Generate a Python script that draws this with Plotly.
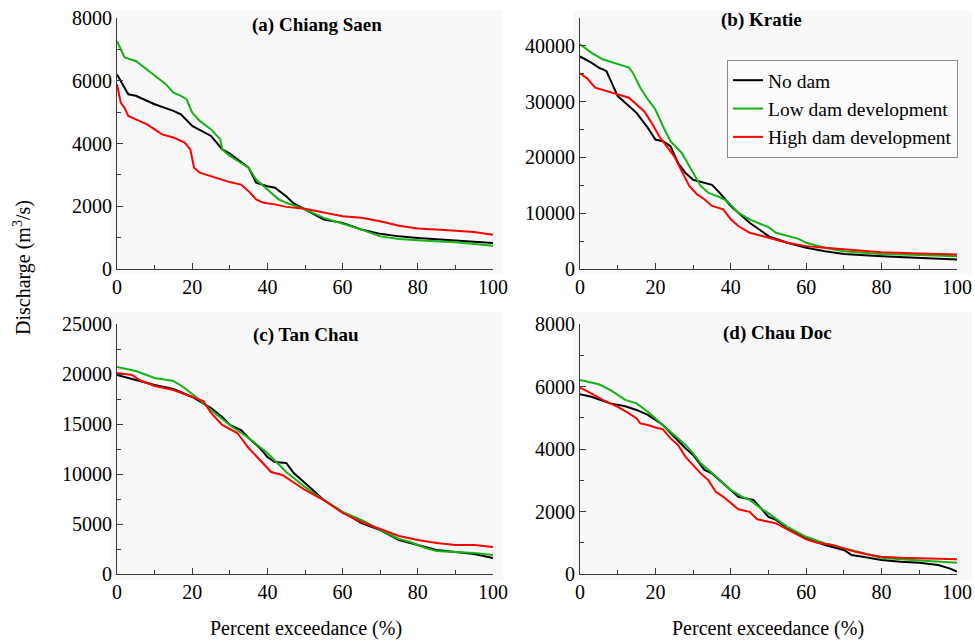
import plotly.graph_objects as go

W, H = 975, 641

# ---------------- data (percent exceedance, discharge m3/s) ----------------
# (a) Chiang Saen
a_nodam_x = [0, 1, 3, 5, 10, 15, 17, 20, 25, 28, 30, 35, 37, 40, 42, 45, 47, 50, 55, 60, 65, 70, 75, 80, 90, 100]
a_nodam_y = [6200, 6000, 5570, 5520, 5250, 5040, 4930, 4560, 4240, 3810, 3680, 3230, 2750, 2640, 2590, 2320, 2090, 1900, 1580, 1470, 1260, 1120, 1040, 990, 915, 830]
a_low_x = [0, 2, 5, 10, 13, 15, 17, 18.5, 20, 22, 25, 27.5, 28, 30, 35, 37, 40, 43, 45, 50, 55, 60, 65, 70, 75, 80, 90, 100]
a_low_y = [7270, 6740, 6630, 6160, 5890, 5620, 5520, 5410, 4980, 4720, 4450, 4130, 3810, 3600, 3230, 2850, 2530, 2220, 2110, 1900, 1630, 1450, 1260, 1040, 960, 915, 850, 745]
a_high_x = [0, 1, 2, 3, 5, 8, 10, 12, 15, 18, 19.5, 20.5, 22, 25, 28, 30, 33, 35, 37, 39, 42, 45, 50, 55, 60, 65, 70, 75, 80, 85, 90, 95, 100]
a_high_y = [5890, 5300, 5140, 4880, 4770, 4610, 4450, 4290, 4190, 4030, 3810, 3230, 3070, 2960, 2850, 2770, 2690, 2480, 2220, 2110, 2060, 1980, 1920, 1790, 1680, 1630, 1520, 1380, 1290, 1260, 1220, 1180, 1090]

# (b) Kratie
b_nodam_x = [0, 3, 5, 7, 8, 9, 10, 12, 15, 18, 20, 22, 24, 26, 28, 30, 33, 35, 37, 40, 45, 50, 55, 60, 65, 70, 80, 90, 100]
b_nodam_y = [38100, 37000, 36100, 35500, 34000, 32500, 31000, 29800, 28000, 25300, 23200, 22900, 22000, 19000, 17200, 16000, 15400, 15100, 13700, 11300, 8300, 5900, 4700, 3800, 3200, 2700, 2300, 2000, 1700]
b_low_x = [0, 3, 6, 10, 13, 14, 16, 18, 20, 22, 24, 27, 30, 32, 34, 37, 39, 42, 45, 48, 50, 52, 55, 58, 60, 65, 70, 80, 90, 100]
b_low_y = [40300, 38800, 37600, 36700, 36100, 35200, 32500, 30400, 28600, 25600, 22900, 20800, 17200, 14900, 13700, 12900, 12200, 10100, 8900, 8000, 7500, 6500, 5900, 5400, 4700, 3800, 3200, 2700, 2500, 2300]
b_high_x = [0, 2, 4, 7, 10, 13, 15, 17, 19, 21, 23, 25, 27, 29, 31, 33, 35, 38, 40, 42, 45, 48, 50, 55, 60, 65, 70, 80, 90, 100]
b_high_y = [35100, 34100, 32500, 31900, 31400, 30700, 29500, 28300, 26200, 23800, 22000, 20200, 17500, 14900, 13400, 12500, 11300, 10700, 8900, 7700, 6500, 5900, 5600, 4700, 4100, 3800, 3500, 3000, 2800, 2600]

# (c) Tan Chau
c_nodam_x = [0, 5, 10, 15, 20, 25, 28, 30, 33, 35, 38, 40, 42, 45, 47, 50, 53, 55, 60, 65, 70, 75, 80, 85, 90, 95, 100]
c_nodam_y = [19900, 19400, 18900, 18500, 17700, 16600, 15700, 14900, 14400, 13600, 12600, 11700, 11200, 11100, 10100, 9100, 8100, 7400, 6200, 5100, 4400, 3400, 2900, 2400, 2200, 2000, 1600]
c_low_x = [0, 5, 10, 15, 18, 22, 25, 30, 35, 40, 45, 50, 55, 60, 65, 70, 75, 78, 82, 85, 90, 95, 100]
c_low_y = [20700, 20300, 19600, 19300, 18600, 17400, 16400, 14900, 13600, 12100, 10200, 8700, 7400, 6200, 5400, 4400, 3500, 3200, 2600, 2300, 2200, 2100, 1900]
c_high_x = [0, 4, 6, 10, 15, 20, 23, 25, 28, 32, 35, 38, 41, 44, 46, 50, 55, 60, 65, 70, 75, 80, 85, 90, 95, 100]
c_high_y = [20100, 19900, 19400, 18800, 18400, 17700, 17300, 16100, 14900, 14100, 12600, 11400, 10200, 9900, 9400, 8400, 7400, 6100, 5200, 4500, 3800, 3400, 3100, 2900, 2900, 2700]

# (d) Chau Doc
d_nodam_x = [0, 3, 8, 12, 15, 18, 20, 22, 25, 28, 30, 33, 35, 38, 40, 42, 45, 46, 48, 50, 52, 55, 60, 65, 70, 72, 75, 80, 85, 90, 95, 98, 100]
d_nodam_y = [5750, 5670, 5460, 5370, 5250, 5090, 4930, 4770, 4390, 4020, 3810, 3330, 3220, 2900, 2690, 2470, 2390, 2370, 2100, 1830, 1730, 1460, 1140, 930, 770, 610, 555, 450, 395, 360, 290, 180, 75]
d_low_x = [0, 5, 8, 12, 15, 18, 20, 23, 25, 28, 30, 32, 35, 38, 40, 43, 45, 48, 50, 55, 60, 65, 70, 75, 80, 85, 90, 95, 100]
d_low_y = [6210, 6070, 5890, 5570, 5460, 5190, 4980, 4660, 4450, 4130, 3860, 3540, 3240, 2900, 2690, 2470, 2370, 2100, 1940, 1510, 1190, 980, 820, 660, 520, 470, 430, 395, 360]
d_high_x = [0, 3, 6, 10, 13, 15, 16, 18, 20, 22, 24, 26, 28, 30, 32, 34, 36, 38, 40, 42, 45, 47, 50, 52, 55, 58, 60, 63, 67, 70, 73, 77, 80, 85, 90, 95, 100]
d_high_y = [5960, 5780, 5570, 5350, 5140, 4980, 4820, 4770, 4690, 4630, 4340, 4130, 3750, 3490, 3220, 3010, 2630, 2470, 2260, 2070, 1990, 1750, 1670, 1620, 1430, 1250, 1110, 1000, 930, 820, 715, 610, 555, 520, 500, 490, 470]

series_names = ["No dam", "Low dam development", "High dam development"]
series_colors = ["#000000", "#13b313", "#ff0000"]
panel_titles = ["(a) Chiang Saen", "(b) Kratie", "(c) Tan Chau", "(d) Chau Doc"]
x_ticks = [0, 20, 40, 60, 80, 100]
y_ranges = [[0, 8000], [0, 45000], [0, 25000], [0, 8000]]
y_dticks = [2000, 10000, 5000, 2000]
x_title = "Percent exceedance (%)"
y_title = "Discharge (m<sup>3</sup>/s)"

panels = [
    [(a_nodam_x, a_nodam_y), (a_low_x, a_low_y), (a_high_x, a_high_y)],
    [(b_nodam_x, b_nodam_y), (b_low_x, b_low_y), (b_high_x, b_high_y)],
    [(c_nodam_x, c_nodam_y), (c_low_x, c_low_y), (c_high_x, c_high_y)],
    [(d_nodam_x, d_nodam_y), (d_low_x, d_low_y), (d_high_x, d_high_y)],
]

# ---------------- layout geometry (pixels) ----------------
plot_px = [  # x0, x1, y0(top), y1(bottom)
    (117, 493, 18, 269),
    (580, 957, 18, 269),
    (117, 493, 324, 574),
    (580, 957, 324, 574),
]
bg_px = [
    (111, 503, 11, 275),
    (573, 972, 11, 275),
    (111, 503, 312, 580),
    (573, 972, 312, 580),
]
title_px = [(317, 25), (761, 20), (306, 335), (777, 333)]

def px(x):
    return x / W

def py(y):
    return 1 - y / H

FONT = "Liberation Serif, Times New Roman, serif"
AXC = "#3a3a3a"

fig = go.Figure()
layout = dict(
    template="none",
    width=W, height=H,
    margin=dict(l=0, r=0, t=0, b=0, autoexpand=False),
    paper_bgcolor="white",
    plot_bgcolor="rgba(0,0,0,0)",
    font=dict(family=FONT, size=20, color="black"),
    showlegend=True,
    legend=dict(
        x=px(727), y=py(60), xanchor="left", yanchor="top",
        bgcolor="#fbfbfb", bordercolor="#8a8a8a", borderwidth=1,
        font=dict(family=FONT, size=19.5, color="black"),
        tracegroupgap=0, itemwidth=30,
    ),
    shapes=[], annotations=[],
)

for i, (series, (x0, x1, y0, y1)) in enumerate(zip(panels, plot_px)):
    k = "" if i == 0 else str(i + 1)
    xa, ya = "x" + k, "y" + k
    for j, (xs, ys) in enumerate(series):
        fig.add_trace(go.Scatter(
            x=xs, y=ys, mode="lines", name=series_names[j],
            line=dict(color=series_colors[j], width=2),
            xaxis=xa, yaxis=ya, showlegend=(i == 0), legendgroup=series_names[j],
        ))
    common = dict(
        showline=True, linecolor=AXC, linewidth=1, mirror=False,
        ticks="inside", ticklen=6, tickcolor=AXC, tickwidth=1,
        showgrid=False, zeroline=False, automargin=False,
        tickformat="d",
        tickfont=dict(family=FONT, size=20, color="black"),
    )
    layout["xaxis" + k] = dict(
        domain=[px(x0), px(x1)], anchor=ya, range=[0, 100],
        tickvals=x_ticks,
        minor=dict(ticks="inside", ticklen=4, dtick=10, tickcolor=AXC, showgrid=False),
        **common,
    )
    layout["yaxis" + k] = dict(
        domain=[py(y1), py(y0)], anchor=xa, range=y_ranges[i],
        dtick=y_dticks[i], tick0=0,
        minor=dict(ticks="inside", ticklen=4, dtick=y_dticks[i] / 2, tickcolor=AXC, showgrid=False),
        **common,
    )
    bx0, bx1, by0, by1 = bg_px[i]
    layout["shapes"].append(dict(
        type="rect", xref="paper", yref="paper", layer="below",
        x0=px(bx0), x1=px(bx1), y0=py(by1), y1=py(by0),
        fillcolor="#f8f8f8", line=dict(width=0),
    ))
    tx, ty = title_px[i]
    layout["annotations"].append(dict(
        text="<b>" + panel_titles[i] + "</b>", xref="paper", yref="paper",
        x=px(tx), y=py(ty), xanchor="center", yanchor="middle", showarrow=False,
        font=dict(family=FONT, size=19, color="black"),
    ))

for cx in (306, 768):
    layout["annotations"].append(dict(
        text=x_title, xref="paper", yref="paper", x=px(cx), y=py(628),
        xanchor="center", yanchor="middle", showarrow=False,
        font=dict(family=FONT, size=20, color="black"),
    ))
layout["annotations"].append(dict(
    text=y_title, xref="paper", yref="paper", x=px(22), y=py(268),
    xanchor="center", yanchor="middle", showarrow=False, textangle=-90,
    font=dict(family=FONT, size=20, color="black"),
))

fig.update_layout(**layout)
fig.write_html(
    "out.html",
    config={"displayModeBar": False},
    post_script="document.body.style.margin='0px';document.body.style.overflow='hidden';",
)
